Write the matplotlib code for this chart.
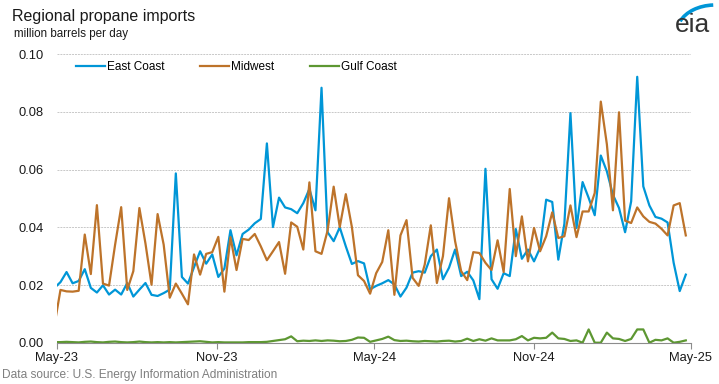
import numpy as np
import pandas as pd
import matplotlib
matplotlib.use('Agg')
import matplotlib.pyplot as plt
import matplotlib.dates as mdates
from matplotlib.patches import Arc

plt.rcParams['font.family'] = ['Liberation Sans', 'DejaVu Sans']

# weekly data, Fridays
start_date = '2023-04-28'
n_weeks = 105

east_coast = [
    0.019, 0.021, 0.0245, 0.0206, 0.0214, 0.0255, 0.019, 0.0174, 0.0199, 0.0167,
    0.0184, 0.0167, 0.0207, 0.016, 0.0184, 0.0207, 0.0166, 0.0162, 0.0172, 0.0184,
    0.0587, 0.0228, 0.0205, 0.0262, 0.0317, 0.0274, 0.0306, 0.0228, 0.0257, 0.039,
    0.0303, 0.0377, 0.0392, 0.0414, 0.0429, 0.0691, 0.0401, 0.0503, 0.0469, 0.0463,
    0.0449, 0.0484, 0.0533, 0.0459, 0.0884, 0.0383, 0.0352, 0.04, 0.0334, 0.0273,
    0.0283, 0.0275, 0.0185, 0.0197, 0.0206, 0.0217, 0.0202, 0.016, 0.0191, 0.0243,
    0.0248, 0.0243, 0.030, 0.0323, 0.022, 0.026, 0.0323, 0.0231, 0.0246, 0.0216,
    0.0151, 0.0603, 0.022, 0.0187, 0.0241, 0.0231, 0.0394, 0.0291, 0.0323, 0.0282,
    0.0329, 0.0496, 0.0488, 0.0288, 0.0412, 0.0796, 0.0398, 0.0557, 0.0502, 0.0442,
    0.0649, 0.0594, 0.0513, 0.0467, 0.0383, 0.049, 0.0922, 0.0542, 0.0476, 0.0436,
    0.043, 0.0417, 0.0277, 0.0179, 0.0236]

midwest = [
    0.006, 0.0183, 0.0178, 0.0177, 0.018, 0.0375, 0.0238, 0.0477, 0.0205, 0.0198,
    0.034, 0.047, 0.0183, 0.0248, 0.0467, 0.0344, 0.0201, 0.0446, 0.034, 0.0156,
    0.0205, 0.017, 0.0133, 0.0306, 0.0236, 0.0308, 0.0314, 0.0367, 0.0177, 0.0366,
    0.0252, 0.036, 0.0356, 0.0377, 0.0334, 0.0286, 0.0317, 0.0349, 0.0239, 0.0417,
    0.0402, 0.0323, 0.0556, 0.0317, 0.0308, 0.0389, 0.0541, 0.0401, 0.0515, 0.0401,
    0.0234, 0.0214, 0.017, 0.0241, 0.028, 0.039, 0.0166, 0.0372, 0.0425, 0.0225,
    0.0197, 0.0271, 0.0407, 0.0207, 0.030, 0.0501, 0.0352, 0.0248, 0.0217, 0.0314,
    0.0311, 0.0277, 0.0252, 0.0355, 0.0245, 0.0533, 0.030, 0.0438, 0.0282, 0.0398,
    0.0317, 0.0369, 0.0452, 0.0363, 0.0369, 0.0476, 0.0366, 0.0455, 0.0455, 0.0519,
    0.0836, 0.0688, 0.0459, 0.0799, 0.0423, 0.0415, 0.0469, 0.0438, 0.0419, 0.0413,
    0.0395, 0.0372, 0.0476, 0.0484, 0.0372]

gulf_coast = [
    0.0002, 0.0002, 0.0003, 0.0002, 0.0001, 0.0003, 0.0004, 0.0002, 0.0001, 0.0003,
    0.0004, 0.0002, 0.0001, 0.0002, 0.0004, 0.0002, 0.0001, 0.0002, 0.0001, 0.0002,
    0.0001, 0.0002, 0.0003, 0.0004, 0.0005, 0.0003, 0.0001, 0.0002, 0.0001, 0.0001,
    0.0001, 0.0001, 0.0002, 0.0002, 0.0002, 0.0003, 0.0006, 0.0009, 0.0012, 0.0022,
    0.0005, 0.0007, 0.0006, 0.0008, 0.0006, 0.0008, 0.0007, 0.0005, 0.0006, 0.001,
    0.0018, 0.0017, 0.0003, 0.0008, 0.0013, 0.0021, 0.0009, 0.0006, 0.0007, 0.0005,
    0.0004, 0.0006, 0.0005, 0.0004, 0.0006, 0.0007, 0.0004, 0.0006, 0.0014, 0.0006,
    0.0012, 0.0007, 0.0015, 0.0008, 0.0008, 0.0008, 0.0012, 0.0023, 0.0008, 0.0017,
    0.0015, 0.0017, 0.0035, 0.0015, 0.0013, 0.0006, 0.0008, 0.0, 0.0046, 0.0,
    0.0, 0.0035, 0.0015, 0.0013, 0.0006, 0.0013, 0.0046, 0.0046, 0.0, 0.001,
    0.0008, 0.0015, 0.0, 0.0003, 0.0008]

tick_dates = ['2023-05-01', '2023-11-01', '2024-05-01', '2024-11-01', '2025-05-01']
y_ticks = [0.0, 0.02, 0.04, 0.06, 0.08, 0.10]

dates = pd.date_range(start_date, periods=n_weeks, freq='7D')

fig = plt.figure(figsize=(7.19, 3.84), dpi=100)
ax = fig.add_axes([57/719, 1 - 342.7/384, 634/719, 288.4/384])

ax.plot(dates, east_coast, color='#0096d7', lw=1.6, label='East Coast')
ax.plot(dates, midwest, color='#bd732a', lw=1.6, label='Midwest')
ax.plot(dates, gulf_coast, color='#5d9732', lw=1.6, label='Gulf Coast')

ax.set_xlim(pd.Timestamp(tick_dates[0]), pd.Timestamp(tick_dates[-1]))
ax.set_ylim(0, 0.10)
ax.set_yticks(y_ticks)
ax.set_yticklabels(['%.2f' % v for v in y_ticks])
ax.set_xticks([pd.Timestamp(d) for d in tick_dates])
ax.xaxis.set_major_formatter(mdates.DateFormatter('%b-%y'))

ax.grid(axis='y', color='#c8c8c8', lw=0.7, linestyle=(0, (2, 1)))
ax.set_axisbelow(True)
for s in ['top', 'right', 'left']:
    ax.spines[s].set_visible(False)
ax.spines['bottom'].set_color('#8c8c8c')
ax.tick_params(axis='y', length=0, pad=9.4, labelsize=9.3, labelcolor='#1a1a1a')
ax.tick_params(axis='x', length=4, color='#8c8c8c', pad=2.5, labelsize=9.3, labelcolor='#1a1a1a')

ax.legend(loc='upper left', bbox_to_anchor=(76/719, 1 - 61/384), bbox_transform=fig.transFigure,
          ncol=3, frameon=False, fontsize=8.5, handlelength=2.45, handletextpad=0.15,
          columnspacing=3.05, borderpad=0, borderaxespad=0)

fig.text(12/719, 1 - 16/384, 'Regional propane imports', fontsize=11.5, va='center', color='#1a1a1a')
fig.text(14/719, 1 - 34/384, 'million barrels per day', fontsize=8.4, va='center', color='#1a1a1a')
fig.text(2/719, 1 - 375/384, 'Data source: U.S. Energy Information Administration',
         fontsize=8.6, va='center', color='#7f7f7f')

# eia logo
fig.text(692/719, 1 - 25/384, 'eia', fontsize=19, ha='center', va='center', color='#333333')
fig.add_artist(Arc((715/719, 1 - 32/384), 76/719, 54/384, theta1=92, theta2=150,
                   transform=fig.transFigure, color='#0096d7', lw=2.6))

fig.savefig('out.png', dpi=100)
